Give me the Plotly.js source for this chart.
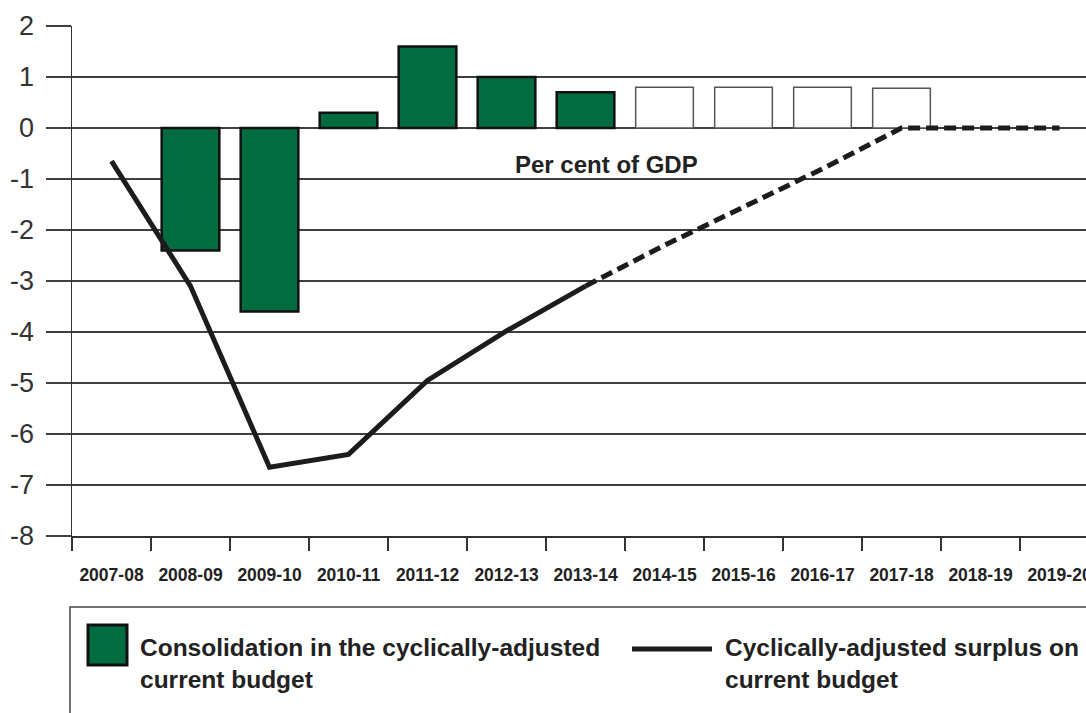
<!DOCTYPE html>
<html>
<head>
<meta charset="utf-8">
<script src="https://cdn.plot.ly/plotly-3.0.1.min.js"></script>
<style>
  html, body { margin: 0; padding: 0; background: #ffffff; overflow: hidden; }
  #chart { width: 1100px; height: 713px; }
</style>
</head>
<body>
<div id="chart"></div>
<script>
// ---- data ----
const categories = ['2007-08','2008-09','2009-10','2010-11','2011-12','2012-13','2013-14',
                    '2014-15','2015-16','2016-17','2017-18','2018-19','2019-20'];
const consolidation = [null, -2.4, -3.6, 0.3, 1.6, 1.0, 0.7, 0.8, 0.8, 0.8, 0.78, null, null];
const consolidationProjected = [false, false, false, false, false, false, false, true, true, true, true, false, false];
const surplusOutturn = [-0.65, -3.1, -6.65, -6.4, -4.95, -3.98, -3.1, null, null, null, null, null, null];
const surplusProjection = [null, null, null, null, null, null, -3.1, -2.3, -1.55, -0.8, 0, 0, 0];
const yTickValues = [-8, -7, -6, -5, -4, -3, -2, -1, 0, 1, 2];
const yTickLabels = ['-8', '-7', '-6', '-5', '-4', '-3', '-2', '-1', '0', '1', '2'];
const barName = 'Consolidation in the cyclically-adjusted current budget';
const lineName = 'Cyclically-adjusted surplus on current budget';
const barLegendText = 'Consolidation in the cyclically-adjusted<br>current budget';
const lineLegendText = 'Cyclically-adjusted surplus on<br>current budget';
const annotationText = 'Per cent of GDP';

// ---- style ----
const GREEN = '#036b40';
const DARK = '#1c1c1c';
const GRID = '#3f3f3f';
const sans = '"Liberation Sans", Arial, sans-serif';

const L = 72, T = 26, PW = 1027, PH = 510;
const px = x => (x - L) / PW;
const py = y => (T + PH - y) / PH;

const traces = [
  {
    type: 'bar',
    name: barName,
    x: categories,
    y: consolidation,
    marker: {
      color: consolidationProjected.map(p => p ? '#ffffff' : GREEN),
      line: {
        color: consolidationProjected.map(p => p ? '#555555' : '#111111'),
        width: consolidationProjected.map(p => p ? 1.5 : 2.5)
      }
    },
    hoverinfo: 'x+y'
  },
  {
    type: 'scatter',
    mode: 'lines',
    name: lineName,
    x: categories,
    y: surplusOutturn,
    line: { color: DARK, width: 5 },
    connectgaps: false
  },
  {
    type: 'scatter',
    mode: 'lines',
    name: lineName + ' (projection)',
    x: categories,
    y: surplusProjection,
    line: { color: DARK, width: 5, dash: '12px,6px' },
    connectgaps: false
  }
];

const layout = {
  width: 1100,
  height: 713,
  margin: { l: L, r: 1100 - L - PW, t: T, b: 713 - T - PH },
  paper_bgcolor: '#ffffff',
  plot_bgcolor: '#ffffff',
  showlegend: false,
  bargap: 0.27,
  xaxis: {
    type: 'category',
    range: [-0.5, 12.5],
    tickson: 'boundaries',
    ticks: 'outside',
    ticklen: 13,
    tickwidth: 1.5,
    tickcolor: '#333333',
    tickangle: 0,
    showline: true,
    linecolor: '#333333',
    linewidth: 1.5,
    showgrid: false,
    zeroline: false,
    ticklabelstandoff: 22,
    tickfont: { family: sans, size: 17.5, color: '#222222', weight: 'bold' },
    fixedrange: true
  },
  yaxis: {
    range: [-8, 2],
    tickmode: 'array',
    tickvals: yTickValues,
    ticktext: yTickLabels,
    ticks: 'outside',
    ticklen: 25,
    tickwidth: 1.5,
    tickcolor: GRID,
    showgrid: true,
    gridcolor: GRID,
    gridwidth: 1.5,
    showline: true,
    linecolor: '#333333',
    linewidth: 1.5,
    zeroline: false,
    ticklabelstandoff: 6,
    tickfont: { family: sans, size: 27, color: '#333333' },
    fixedrange: true
  },
  shapes: [
    // legend frame
    { type: 'rect', xref: 'paper', yref: 'paper', x0: px(70), x1: px(1120), y0: py(740), y1: py(607),
      line: { color: '#444444', width: 1.5 }, fillcolor: 'rgba(0,0,0,0)', layer: 'above' },
    // legend swatch for bars
    { type: 'rect', xref: 'paper', yref: 'paper', x0: px(88), x1: px(127), y0: py(665), y1: py(625),
      line: { color: '#111111', width: 3 }, fillcolor: GREEN, layer: 'above' },
    // legend swatch for line
    { type: 'line', xref: 'paper', yref: 'paper', x0: px(632), x1: px(712), y0: py(649), y1: py(649),
      line: { color: DARK, width: 5 }, layer: 'above' }
  ],
  annotations: [
    { text: annotationText, xref: 'paper', yref: 'y', x: px(606), y: -0.72,
      xanchor: 'center', yanchor: 'middle', showarrow: false,
      font: { family: sans, size: 24, color: '#222222', weight: 'bold' } },
    { text: barLegendText, xref: 'paper', yref: 'paper',
      x: px(138), y: py(663), xanchor: 'left', yanchor: 'middle', align: 'left', showarrow: false,
      font: { family: sans, size: 24.5, color: '#222222', weight: 'bold' } },
    { text: lineLegendText, xref: 'paper', yref: 'paper',
      x: px(723), y: py(663), xanchor: 'left', yanchor: 'middle', align: 'left', showarrow: false,
      font: { family: sans, size: 24.5, color: '#222222', weight: 'bold' } }
  ]
};

Plotly.newPlot('chart', traces, layout, { displayModeBar: false, staticPlot: true });
</script>
</body>
</html>
